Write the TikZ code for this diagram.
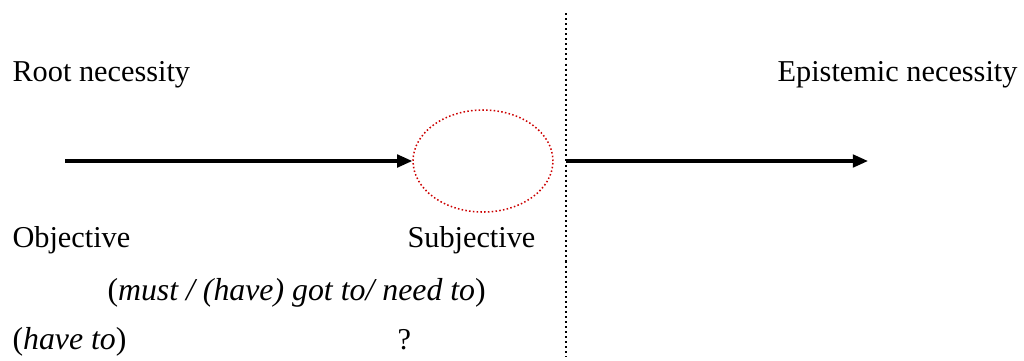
\documentclass[tikz,border=0pt]{standalone}
\usepackage{fontspec}
\setmainfont{Liberation Serif}
\usetikzlibrary{arrows.meta, positioning, shapes.geometric}

\begin{document}
\begin{tikzpicture}[x=0.396pt, y=-0.396pt, >={Triangle[length=6pt, width=5pt]},
    font=\fontsize{12}{14}\selectfont,
    txt/.style={inner sep=0pt, anchor=base west},
    itxt/.style={txt, font=\fontsize{12.6}{14}\selectfont},
    arr/.style={->, line width=1.2pt},
    ring/.style={draw=red!80!black, ellipse, line width=0.6pt, dash pattern=on 0.6pt off 0.9pt, minimum width=55.4pt, minimum height=40.4pt, inner sep=0pt},
    divider/.style={line width=0.8pt, dash pattern=on 0.8pt off 1.2pt}]
  \useasboundingbox (0,0) rectangle (1024,360);
  % headings
  \node[txt] (root) at (12,81) {Root necessity};
  \node[txt, anchor=base east] (epist) at (1018,81) {Epistemic necessity};
  % scale ends
  \node[txt] (obj) at (12,247) {Objective};
  \node[txt] (subj) at (407,247) {Subjective};
  \node[itxt] (modals) at (107,300) {(\textit{must / (have) got to/ need to})};
  \node[itxt] (haveto) at (12,349) {(\textit{have to})};
  \node[txt] (query) at (397,349) {?};
  % the zone between
  \node[ring] (ell) at (483,161) {};
  \coordinate (divtop) at (566,13);
  \coordinate (divbot) at (566,357);
  \coordinate (divmid) at (566,161);
  \coordinate (startA) at (65,161);
  \coordinate (endB) at (868,161);
  \draw[divider] (divtop) -- (divbot);
  % arrows
  \draw[arr] (startA) -- (ell.west);
  \draw[arr] (divmid) -- (endB);
\end{tikzpicture}
\end{document}
